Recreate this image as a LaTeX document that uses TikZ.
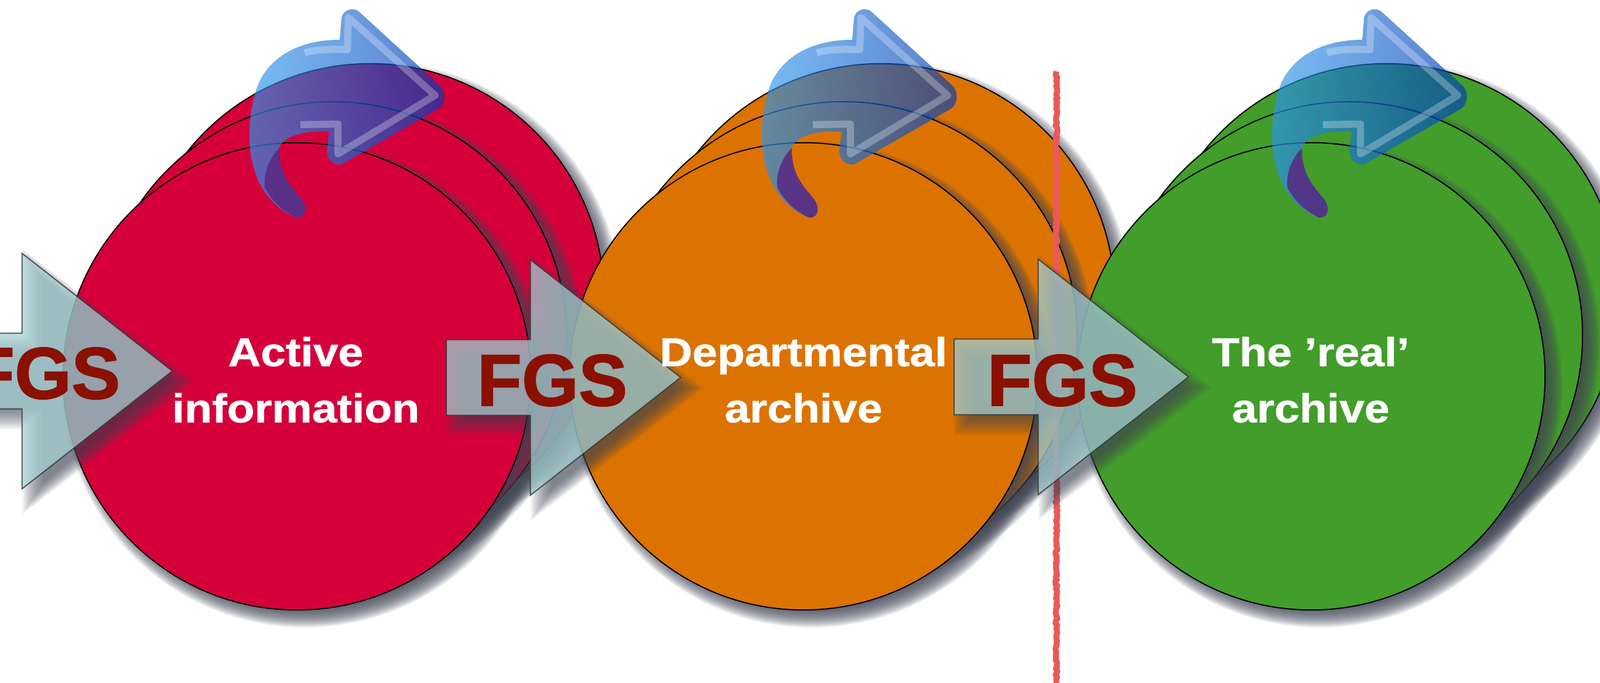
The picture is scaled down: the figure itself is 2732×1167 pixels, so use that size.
\documentclass[tikz,border=0pt]{standalone}
\usepackage{fontspec}
\setmainfont{Liberation Sans}
\newfontface\discface{Liberation Sans Bold}[FakeStretch=1.12,FakeBold=1]
\newfontface\fgsface{Liberation Sans Bold}[FakeBold=1.5]
\usetikzlibrary{shapes.arrows,decorations.pathmorphing,fadings}

\definecolor{activered}{HTML}{D5003A}
\definecolor{deptorange}{HTML}{DC7300}
\definecolor{realgreen}{HTML}{429D2A}
\definecolor{arrowteal}{RGB}{168,213,216}
\definecolor{fgsred}{HTML}{8A1000}
\definecolor{chalkred}{HTML}{E85A5A}
\definecolor{iconlight}{RGB}{60,175,250}
\definecolor{icondark}{RGB}{0,60,182}
\definecolor{icontail}{RGB}{90,40,130}
\definecolor{shadowgrey}{RGB}{65,70,85}

\newcommand{\iconbody}{
  (580,68) .. controls (520,68) and (470,90) .. (445,135)
  .. controls (425,175) and (420,245) .. (433,285)
  .. controls (443,325) and (470,358) .. (507,372)
  .. controls (520,372) and (525,360) .. (518,345)
  .. controls (505,325) and (476,305) .. (475,258)
  .. controls (478,235) and (515,222) .. (562,225)
  -- (558,258) .. controls (558,272) and (570,285) .. (585,280)
  -- (750,185) .. controls (762,175) and (760,155) .. (752,147)
  -- (613,20) .. controls (605,12) and (585,15) .. (583,32) -- cycle
}

% soft shadow of a disc, then the disc: name, colour, x, y
\newcommand{\softdisc}[4]{
  \foreach \grow in {-16,-14,...,16} {
      \fill[shadowgrey, opacity = 0.1] (#3+14,#4+14) circle[radius = 399+\grow];
    }
  \node[disc, fill = #2] (#1) at (#3,#4) {};
}

% soft shadow of an arrow, then the arrow: name, x of its tail, y
\newcommand{\softarrow}[3]{
  \foreach \grow in {-18,-16,...,18} {
      \fill[shadowgrey, opacity = 0.055]
        (#2+18-\grow,#3+18-63.5-\grow) -- (#2+18+145-\grow,#3+18-63.5-\grow)
        -- (#2+18+145-\grow,#3+18-200-1.5*\grow) -- (#2+18+400+1.3*\grow,#3+18)
        -- (#2+18+145-\grow,#3+18+200+1.5*\grow) -- (#2+18+145-\grow,#3+18+63.5+\grow)
        -- (#2+18-\grow,#3+18+63.5+\grow) -- cycle;
    }
  \node[fgs arrow] (#1) at (#2,#3) {};
}

\begin{document}
\begin{tikzpicture}
      [
        x = 0.01cm, y = -0.01cm,
        disc/.style = {circle, draw = black, line width = 0.02cm, inner sep = 0pt, minimum size = 7.98cm},
        fgs arrow/.style = {single arrow, fill = arrowteal, draw = black!80, line width = 0.02cm,
            fill opacity = 0.7, draw opacity = 0.8, inner sep = 0pt, text height = 1.27cm, text depth = 0pt,
            minimum width = 4cm, minimum height = 4cm, single arrow tip angle = 76.2, single arrow head extend = 1.365cm,
            anchor = tail},
        fgs text/.style = {text = fgsred, font = \fontsize{35.5pt}{35.5pt}\fgsface, inner sep = 0pt},
        disc text/.style = {text = white, font = \fontsize{19.5pt}{27.3pt}\discface, align = center, inner sep = 0pt},
      ]

      \useasboundingbox (0,0) rectangle (2732,1167);

      \softdisc{activeback}{activered}{632}{508}
      \softdisc{activemid}{activered}{568}{573}
      \softdisc{active}{activered}{507}{643}

      \softdisc{deptback}{deptorange}{1504}{508}
      \softdisc{deptmid}{deptorange}{1440}{573}
      \softdisc{dept}{deptorange}{1372}{643}

      \coordinate (linetop) at (1804,122);
      \coordinate (linebottom) at (1804,1167);
      \draw[chalkred, line width = 0.1cm, line join = round, decorate, decoration = {random steps, segment length = 0.035cm, amplitude = 0.018cm}] (linetop) -- (linebottom);

      \softdisc{realback}{realgreen}{2367}{508}
      \softdisc{realmid}{realgreen}{2303}{573}
      \softdisc{real}{realgreen}{2239}{643}

      % the three loop icons
      \foreach \dx in {0,875,1746} {
          \begin{scope}[shift = {(\dx,0)}]
            \shade[left color = iconlight, right color = icondark, shading angle = 105, fill opacity = 0.62] \iconbody;
            \fill[icondark, path fading = north, fill opacity = 0.25] \iconbody;
            \draw[white, opacity = 0.28, line width = 0.12cm, line join = round]
              (520,90) .. controls (540,85) and (560,83) .. (593,85) -- (595,30) -- (743,163) -- (577,263) -- (577,212) -- (513,213);
            \fill[icontail, opacity = 0.85]
              (477,253) .. controls (460,270) and (450,295) .. (452,320)
              .. controls (465,345) and (485,362) .. (507,372)
              .. controls (520,372) and (525,360) .. (518,345)
              .. controls (505,325) and (476,305) .. (477,253);
          \end{scope}
        }

      \softarrow{arrowone}{-107}{634}
      \softarrow{arrowtwo}{761}{645}
      \softarrow{arrowthree}{1628}{644}

      \node[fgs text] (fgsone) at (77,638) {FGS};
      \node[fgs text] (fgstwo) at (943,650) {FGS};
      \node[fgs text] (fgsthree) at (1814,650) {FGS};

      \node[disc text] (activetext) at (505,649) {Active\\information};
      \node[disc text] (depttext) at (1372,649) {Departmental\\archive};
      \node[disc text] (realtext) at (2238,649) {The ’real’\\archive};
    \end{tikzpicture}
\end{document}
